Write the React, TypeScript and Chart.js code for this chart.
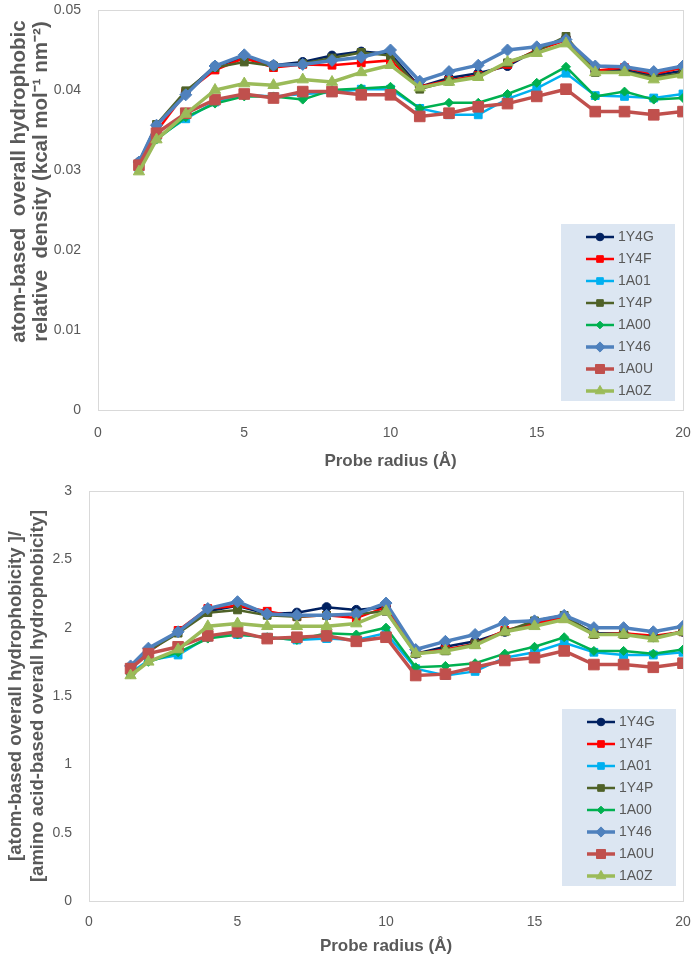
import React, { useEffect, useRef } from "react";
import { Chart, registerables } from "chart.js";
import { drawPoint } from "chart.js/helpers";

Chart.register(...registerables);

// ---------------- data ----------------
const radius = [1.4, 2, 3, 4, 5, 6, 7, 8, 9, 10, 11, 12, 13, 14, 15, 16, 17, 18, 19, 20];
const seriesNames = ["1Y4G", "1Y4F", "1A01", "1Y4P", "1A00", "1Y46", "1A0U", "1A0Z"];

// top chart: atom-based overall hydrophobic relative density
const dens1Y4G = [0.0310, 0.0356, 0.0397, 0.0430, 0.0440, 0.0431, 0.0435, 0.0443, 0.0448, 0.0445, 0.0404, 0.0415, 0.0421, 0.0430, 0.0450, 0.0465, 0.0424, 0.0425, 0.0418, 0.0424];
const dens1Y4F = [0.0305, 0.0348, 0.0397, 0.0425, 0.0440, 0.0428, 0.0432, 0.0431, 0.0434, 0.0437, 0.0404, 0.0412, 0.0418, 0.0432, 0.0450, 0.0462, 0.0424, 0.0428, 0.0420, 0.0428];
const dens1A01 = [0.0302, 0.0340, 0.0364, 0.0385, 0.0394, 0.0392, 0.0395, 0.0397, 0.0401, 0.0401, 0.0377, 0.0369, 0.0369, 0.0389, 0.0402, 0.0421, 0.0393, 0.0392, 0.0390, 0.0395];
const dens1Y4P = [0.0308, 0.0357, 0.0399, 0.0428, 0.0435, 0.0430, 0.0433, 0.0440, 0.0447, 0.0443, 0.0401, 0.0411, 0.0417, 0.0434, 0.0449, 0.0467, 0.0422, 0.0423, 0.0416, 0.0421];
const dens1A00 = [0.0301, 0.0338, 0.0366, 0.0383, 0.0392, 0.0392, 0.0388, 0.0400, 0.0402, 0.0404, 0.0377, 0.0384, 0.0384, 0.0395, 0.0409, 0.0429, 0.0392, 0.0398, 0.0388, 0.0390];
const dens1Y46 = [0.0310, 0.0356, 0.0394, 0.0430, 0.0444, 0.0431, 0.0432, 0.0437, 0.0441, 0.0450, 0.0411, 0.0423, 0.0431, 0.0450, 0.0454, 0.0463, 0.0430, 0.0429, 0.0423, 0.0430];
const dens1A0U = [0.0306, 0.0346, 0.0371, 0.0388, 0.0395, 0.0390, 0.0398, 0.0398, 0.0394, 0.0394, 0.0367, 0.0371, 0.0379, 0.0383, 0.0392, 0.0401, 0.0373, 0.0373, 0.0369, 0.0373];
const dens1A0Z = [0.0298, 0.0338, 0.0370, 0.0400, 0.0408, 0.0406, 0.0413, 0.0410, 0.0422, 0.0431, 0.0403, 0.0410, 0.0416, 0.0435, 0.0446, 0.0458, 0.0422, 0.0422, 0.0413, 0.0419];

// bottom chart: atom-based / amino-acid-based overall hydrophobicity
const ratio1Y4G = [1.71, 1.84, 1.97, 2.12, 2.16, 2.10, 2.11, 2.15, 2.13, 2.15, 1.81, 1.86, 1.90, 1.97, 2.03, 2.08, 1.96, 1.96, 1.93, 1.97];
const ratio1Y4F = [1.71, 1.82, 1.98, 2.14, 2.16, 2.12, 2.08, 2.09, 2.07, 2.15, 1.81, 1.84, 1.88, 1.98, 2.03, 2.07, 1.95, 1.96, 1.94, 1.97];
const ratio1A01 = [1.67, 1.76, 1.80, 1.93, 1.95, 1.93, 1.91, 1.92, 1.91, 1.96, 1.70, 1.65, 1.68, 1.78, 1.82, 1.89, 1.82, 1.80, 1.80, 1.82];
const ratio1Y4P = [1.71, 1.83, 1.96, 2.11, 2.13, 2.09, 2.08, 2.09, 2.10, 2.12, 1.81, 1.83, 1.88, 1.97, 2.05, 2.09, 1.95, 1.95, 1.93, 1.97];
const ratio1A00 = [1.66, 1.75, 1.82, 1.92, 1.95, 1.93, 1.91, 1.96, 1.95, 2.00, 1.71, 1.72, 1.74, 1.81, 1.86, 1.93, 1.83, 1.83, 1.81, 1.84];
const ratio1Y46 = [1.72, 1.85, 1.97, 2.14, 2.19, 2.10, 2.09, 2.09, 2.10, 2.18, 1.84, 1.90, 1.95, 2.04, 2.05, 2.09, 2.00, 2.00, 1.97, 2.01];
const ratio1A0U = [1.70, 1.81, 1.86, 1.94, 1.97, 1.92, 1.93, 1.94, 1.90, 1.93, 1.65, 1.66, 1.71, 1.76, 1.78, 1.83, 1.73, 1.73, 1.71, 1.74];
const ratio1A0Z = [1.65, 1.75, 1.84, 2.01, 2.03, 2.01, 2.01, 2.01, 2.03, 2.12, 1.81, 1.83, 1.87, 1.97, 2.01, 2.06, 1.95, 1.95, 1.92, 1.97];

const xTickLabels = ["0", "5", "10", "15", "20"];
const yTickLabelsTop = ["0", "0.01", "0.02", "0.03", "0.04", "0.05"];
const yTickLabelsBottom = ["0", "0.5", "1", "1.5", "2", "2.5", "3"];

const xTitle = "Probe radius (Å)";
const yTitleTop = ["          atom-based  overall hydrophobic", "          relative  density (kcal mol⁻¹ nm⁻²)"];
const yTitleBottom = ["[atom-based overall hydrophobicity ]/", "[amino acid-based overall hydrophobicity]"];

// ---------------- styles ----------------
const seriesStyles = [
  { color: "#002060", point: "circle", r: 4.5, w: 2.5 },
  { color: "#ff0000", point: "rect", r: 5.5, w: 2.5 },
  { color: "#00b0f0", point: "rect", r: 5.5, w: 2.5 },
  { color: "#4f6228", point: "rect", r: 5.5, w: 2.5 },
  { color: "#00b050", point: "rectRot", r: 4.5, w: 2.5 },
  { color: "#4f81bd", point: "rectRot", r: 6, w: 3.5 },
  { color: "#c0504d", point: "rect", r: 7.5, w: 3.5 },
  { color: "#9bbb59", point: "triangle", r: 6.5, w: 3.5 },
];

const FONT = "'Liberation Sans', Arial, sans-serif";
const GRAY = "#595959";

const framePlugin = {
  id: "frame",
  beforeDatasetsDraw(chart: any) {
    const { ctx, chartArea: a } = chart;
    ctx.save();
    ctx.strokeStyle = "#d9d9d9";
    ctx.lineWidth = 1;
    ctx.strokeRect(Math.round(a.left) + 0.5, Math.round(a.top) + 0.5, Math.round(a.right - a.left), Math.round(a.bottom - a.top));
    ctx.restore();
  },
};

const boxLegendPlugin = {
  id: "boxLegend",
  afterDatasetsDraw(chart: any, _args: any, opts: any) {
    const { ctx, chartArea: a } = chart;
    const boxW = 114, boxH = 177, rowH = 22;
    const x0 = a.right - opts.right - boxW;
    const y0 = a.bottom - opts.bottom - boxH;
    ctx.save();
    ctx.fillStyle = "#dce6f2";
    ctx.fillRect(x0, y0, boxW, boxH);
    chart.data.datasets.forEach((ds: any, i: number) => {
      const cy = y0 + 13 + i * rowH;
      ctx.strokeStyle = ds.borderColor;
      ctx.lineWidth = ds.borderWidth;
      ctx.beginPath();
      ctx.moveTo(x0 + 25, cy);
      ctx.lineTo(x0 + 53, cy);
      ctx.stroke();
      ctx.fillStyle = ds.borderColor;
      ctx.strokeStyle = ds.borderColor;
      ctx.lineWidth = 1;
      drawPoint(ctx, { pointStyle: ds.pointStyle, radius: ds.pointRadius * 0.85, borderWidth: 1, rotation: 0 } as any, x0 + 39, cy);
      ctx.fillStyle = GRAY;
      ctx.font = `14px ${FONT}`;
      ctx.textAlign = "left";
      ctx.textBaseline = "middle";
      ctx.fillText(ds.label, x0 + 57, cy);
    });
    ctx.restore();
  },
};

type Cfg = {
  values: number[][];
  yMax: number;
  yStep: number;
  yLabels: string[];
  yTitle: string[];
  yTitleSize: number;
  leftWidth: number;
  padTop: number;
  xHeight: number;
  xTickPad: number;
  yTitlePad: number;
  xTitlePad: number;
  legendRight: number;
  legendBottom: number;
};

function makeConfig(c: Cfg): any {
  const datasets = seriesNames.map((name, i) => {
    const s = seriesStyles[i];
    return {
      label: name,
      data: radius.map((x, j) => ({ x, y: c.values[i][j] })),
      borderColor: s.color,
      backgroundColor: s.color,
      borderWidth: s.w,
      pointStyle: s.point,
      pointRadius: s.r,
      pointBorderWidth: 1,
      pointBackgroundColor: s.color,
      pointBorderColor: s.color,
      tension: 0,
      order: seriesNames.length - i,
    };
  });
  return {
    type: "line",
    data: { datasets },
    plugins: [framePlugin, boxLegendPlugin],
    options: {
      animation: false,
      responsive: false,
      devicePixelRatio: 1,
      layout: { padding: { left: 0, right: 13, top: c.padTop, bottom: 0 } },
      plugins: {
        legend: { display: false },
        tooltip: { enabled: false },
        boxLegend: { right: c.legendRight, bottom: c.legendBottom },
      },
      scales: {
        x: {
          type: "linear",
          min: 0,
          max: 20,
          grid: { display: false, drawTicks: false },
          border: { display: false },
          ticks: {
            stepSize: 5,
            padding: c.xTickPad,
            color: GRAY,
            font: { family: FONT, size: 14 },
            maxRotation: 0,
            callback: (v: number) => xTickLabels[Math.round(v / 5)] ?? "",
          },
          title: {
            display: true,
            text: xTitle,
            color: GRAY,
            font: { family: FONT, size: 17, weight: "bold", lineHeight: 1.2 },
            padding: { top: 0, bottom: c.xTitlePad },
          },
          afterFit: (s: any) => {
            s.height = c.xHeight;
            s.paddingLeft = 0;
            s.paddingRight = 0;
          },
        },
        y: {
          type: "linear",
          min: 0,
          max: c.yMax,
          grid: { display: false, drawTicks: false },
          border: { display: false },
          ticks: {
            stepSize: c.yStep,
            padding: 17,
            color: GRAY,
            font: { family: FONT, size: 14 },
            callback: (v: number) => c.yLabels[Math.round(v / c.yStep)] ?? "",
          },
          title: {
            display: true,
            text: c.yTitle,
            color: GRAY,
            font: { family: FONT, size: c.yTitleSize, weight: "bold", lineHeight: 22 / c.yTitleSize },
            padding: { top: c.yTitlePad, bottom: 0 },
          },
          afterFit: (s: any) => {
            s.width = c.leftWidth;
            s.paddingTop = 0;
            s.paddingBottom = 0;
          },
        },
      },
    },
  };
}

function ChartCanvas({ cfg, top, height }: { cfg: Cfg; top: number; height: number }) {
  const ref = useRef<HTMLCanvasElement>(null);
  useEffect(() => {
    const chart = new Chart(ref.current as HTMLCanvasElement, makeConfig(cfg));
    return () => chart.destroy();
  }, []);
  return (
    <canvas
      ref={ref}
      width={696}
      height={height}
      style={{ position: "absolute", left: 0, top, width: 696, height, display: "block" }}
    />
  );
}

const topCfg: Cfg = {
  values: [dens1Y4G, dens1Y4F, dens1A01, dens1Y4P, dens1A00, dens1Y46, dens1A0U, dens1A0Z],
  yMax: 0.05,
  yStep: 0.01,
  yLabels: yTickLabelsTop,
  yTitle: yTitleTop,
  yTitleSize: 20.5,
  leftWidth: 98,
  padTop: 10,
  xHeight: 70,
  xTickPad: 15,
  yTitlePad: 8,
  xTitlePad: 8,
  legendRight: 8,
  legendBottom: 9,
};

const bottomCfg: Cfg = {
  values: [ratio1Y4G, ratio1Y4F, ratio1A01, ratio1Y4P, ratio1A00, ratio1Y46, ratio1A0U, ratio1A0Z],
  yMax: 3,
  yStep: 0.5,
  yLabels: yTickLabelsBottom,
  yTitle: yTitleBottom,
  yTitleSize: 18.5,
  leftWidth: 89,
  padTop: 11,
  xHeight: 63,
  xTickPad: 13,
  yTitlePad: 5,
  xTitlePad: 7,
  legendRight: 7,
  legendBottom: 15,
};

export default function App() {
  return (
    <div style={{ position: "absolute", left: 0, top: 0, width: 696, height: 964, background: "#ffffff" }}>
      <ChartCanvas cfg={topCfg} top={0} height={480} />
      <ChartCanvas cfg={bottomCfg} top={480} height={484} />
    </div>
  );
}
